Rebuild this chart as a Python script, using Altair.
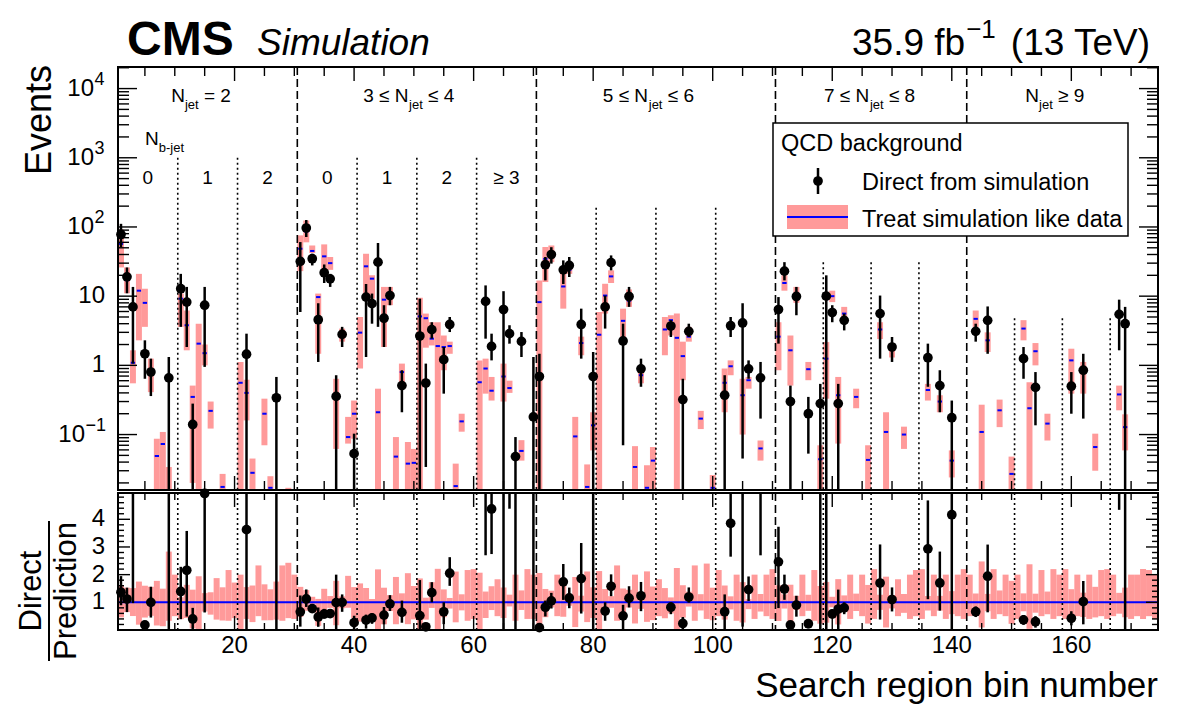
import altair as alt
import pandas as pd

# ---------------- layout (pixels inside the plot group) ----------------
W = 1040                      # plot width
TOP_H = 423                   # event-yield panel height
RAT_Y0, RAT_Y1 = 426, 563     # ratio panel vertical extent
H = RAT_Y1

YMIN, YMAX = 0.0158, 20500.0
RMIN, RMAX = 0.0, 4.95

FONT = "Liberation Sans"
PINK = "#ff9a9a"
BLUE = "#0000ff"

# ---------------- prediction ("treat simulation like data") ----------------
bin_number = list(range(1, 175))

pred = [
    57, 17, 1.09, 12, 8.0, 0.80, 0.049, 0.073, 0.012, 0.006,
    9.2, 3.8, 0.35, 2.06, 1.5, 0.22, 0.008, 0.0175, 0.006, 0.007,
    0.56, 0.40, 0.028, 0.006, 0.20, 0.017, 0.008, 0.006, 0.007, 0.005,
    48.5, 86, 45, 9.7, 37.6, 30, 0.36, 2.8, 0.092, 0.20,
    2.97, 27, 17.9, 0.21, 8.9, 10.8, 0.048, 0.80, 0.038, 0.039,
    5.1, 4.8, 2.43, 1.9, 1.84, 1.9, 0.018, 0.155, 0.006, 0.005,
    0.57, 0.90, 0.43, 0.006, 0.69, 0.47, 0.006, 0.058, 0.005, 0.005,
    8.2, 34.6, 38, 0.006, 13.8, 24, 0.094, 2.1, 0.0175, 0.136,
    2.77, 10.2, 19.3, 0.006, 4.4, 8.6, 0.034, 0.72, 0.017, 0.042,
    0.006, 3.3, 4.5, 2.5, 1.36, 2.6, 0.006, 0.17, 0.005, 0.017,
    0.006, 0.56, 0.97, 0.006, 0.37, 0.61, 0.005, 0.063, 0.006, 0.005,
    2.6, 15.5, 1.65, 11, 0.006, 0.88, 0.006, 0.044, 1.25, 10,
    0.37, 5.6, 0.005, 0.35, 0.006, 0.043, 0.005, 3.3, 0.109, 1.67,
    0.006, 0.10, 0.005, 0.006, 0.005, 0.44, 0.006, 0.30, 0.005, 0.042,
    0.006, 0.005, 0.006, 4.7, 0.109, 2.3, 0.005, 0.224, 0.006, 0.027,
    0.005, 3.4, 0.24, 1.6, 0.006, 0.144, 0.005, 0.006, 0.005, 1.18,
    0.006, 0.83, 0.005, 0.066, 0.006, 0.005, 0.006, 0.38, 0.128, 0.005,
    0.006, 0.005, 0.006, 0.005,
]
pred_lo = [
    26, 11, 0.55, 2.3, 3.6, 0.41, 0.008, 0.010, 0.004, 0.003,
    3.6, 1.65, 0.02, 0.01, 1.0, 0.122, 0.003, 0.006, 0.002, 0.003,
    0.01, 0.16, 0.008, 0.003, 0.07, 0.006, 0.003, 0.002, 0.003, 0.002,
    23, 60, 42, 1.47, 24, 24, 0.062, 2.2, 0.074, 0.087,
    0.9, 10.9, 9.2, 0.005, 1.84, 7.4, 0.010, 0.52, 0.008, 0.015,
    0.01, 1.8, 1.94, 0.01, 0.85, 1.47, 0.005, 0.11, 0.002, 0.002,
    0.01, 0.39, 0.31, 0.003, 0.30, 0.40, 0.002, 0.042, 0.002, 0.002,
    0.01, 16, 31, 0.003, 6.6, 21, 0.010, 1.4, 0.005, 0.059,
    0.01, 5.6, 15.5, 0.002, 2.1, 7.0, 0.008, 0.55, 0.005, 0.015,
    0.003, 1.4, 2.7, 0.01, 0.61, 2.2, 0.002, 0.12, 0.002, 0.006,
    0.003, 0.21, 0.72, 0.002, 0.10, 0.46, 0.002, 0.042, 0.003, 0.002,
    0.85, 12, 0.51, 8, 0.003, 0.61, 0.002, 0.010, 0.33, 8.2,
    0.074, 4.7, 0.002, 0.24, 0.003, 0.010, 0.002, 2.4, 0.010, 1.3,
    0.003, 0.062, 0.002, 0.003, 0.002, 0.31, 0.003, 0.21, 0.002, 0.024,
    0.003, 0.002, 0.003, 3.6, 0.010, 1.56, 0.002, 0.128, 0.003, 0.006,
    0.002, 2.3, 0.010, 1.0, 0.003, 0.082, 0.002, 0.003, 0.002, 0.39,
    0.003, 0.39, 0.002, 0.030, 0.003, 0.002, 0.003, 0.224, 0.059, 0.002,
    0.003, 0.002, 0.003, 0.002,
]
pred_hi = [
    92, 26, 1.65, 21, 12.8, 1.25, 0.087, 0.109, 0.034, 0.012,
    10.9, 6.2, 0.51, 4.0, 2.0, 0.30, 0.015, 0.027, 0.013, 0.012,
    1.12, 0.62, 0.045, 0.014, 0.33, 0.025, 0.014, 0.014, 0.017, 0.010,
    75.6, 124, 54, 10.9, 56, 36.8, 0.64, 3.4, 0.18, 0.31,
    5.0, 41, 20, 0.46, 13.6, 13.6, 0.092, 1.06, 0.078, 0.062,
    9.5, 5.6, 4.2, 4.2, 2.7, 2.2, 0.038, 0.20, 0.013, 0.011,
    1.18, 1.25, 0.68, 0.011, 1.06, 0.60, 0.012, 0.083, 0.011, 0.010,
    16.9, 51.3, 54, 0.012, 24.8, 29, 0.18, 2.6, 0.037, 0.21,
    5.9, 15.1, 23.6, 0.014, 6.6, 12.5, 0.068, 0.95, 0.036, 0.066,
    0.011, 5.0, 5.3, 5.6, 2.2, 3.6, 0.014, 0.22, 0.012, 0.026,
    0.013, 0.90, 1.18, 0.012, 0.64, 0.68, 0.010, 0.082, 0.012, 0.011,
    4.2, 20, 2.7, 13.6, 0.012, 1.12, 0.013, 0.070, 2.17, 12,
    0.68, 7.0, 0.010, 0.46, 0.012, 0.070, 0.011, 4.2, 0.21, 2.1,
    0.011, 0.13, 0.010, 0.013, 0.011, 0.54, 0.012, 0.37, 0.010, 0.059,
    0.012, 0.011, 0.012, 6.2, 0.27, 3.0, 0.011, 0.32, 0.012, 0.048,
    0.010, 4.5, 0.57, 2.1, 0.013, 0.20, 0.011, 0.012, 0.011, 1.74,
    0.012, 1.12, 0.010, 0.103, 0.013, 0.011, 0.012, 0.51, 0.196, 0.010,
    0.012, 0.011, 0.013, 0.010,
]

# ---------------- direct from simulation ----------------
direct_bin = [
    1, 2, 3, 5, 6, 9, 11, 12, 13, 15, 22, 27,
    31, 32, 33, 34, 35, 36, 37, 38, 40, 42, 43, 44, 45, 46, 48, 51, 52, 53, 55, 56,
    62, 63, 65, 66, 67, 68, 70,
    71, 72, 73, 75, 76, 78, 80, 82, 83, 85, 86, 88, 93, 95, 96, 102, 103, 105, 106, 108,
    111, 112, 113, 114, 116, 118, 119, 120, 121, 122, 128, 130, 136, 138, 140,
    144, 146, 152, 154, 160, 162, 168, 169,
]
direct = [
    78, 19, 7.0, 1.47, 0.80, 0.66, 12.8, 8.2, 0.14, 7.4, 1.45, 0.34,
    31.8, 96.5, 34.8, 4.57, 21.8, 17.8, 0.356, 2.8, 0.053, 9.7, 7.8, 31, 4.8, 10.2, 0.51, 2.65, 0.555, 3.28, 1.21, 3.9,
    8.4, 1.88, 6.4, 2.87, 0.048, 2.22, 0.18,
    0.69, 28.5, 40, 24, 27.8, 3.9, 0.69, 7.0, 30.5, 2.25, 9.9, 0.89, 3.7, 0.32, 3.1, 0.37, 3.74, 4.1, 0.89, 0.66,
    6.4, 23, 0.30, 9.9, 0.20, 0.28, 10.0, 5.8, 0.28, 4.47, 5.6, 1.84, 1.29, 0.51, 0.175,
    3.1, 4.47, 1.25, 0.48, 0.50, 0.85, 5.46, 4.0,
]
direct_lo = [
    51, 11, 1.06, 0.64, 0.36, 0, 3.6, 1.84, 0, 0.95, 0, 0,
    5.9, 71.6, 27.8, 1.12, 15.5, 13.6, 0, 1.84, 0, 1.32, 4.0, 3.6, 1.84, 7.4, 0.21, 0, 0.034, 2.43, 0.39, 3.03,
    2.43, 1.18, 0, 2.06, 0, 1.32, 0,
    0, 16.9, 29.5, 15, 18.9, 1.25, 0, 3.4, 23.6, 0.07, 7.0, 0.49, 2.57, 0, 2.57, 0, 2.57, 0.045, 0.64, 0.17,
    2.06, 16.9, 0, 5.3, 0.053, 0, 0, 4.2, 0, 3.2, 1.25, 1.12, 0.49, 0.21, 0,
    2.2, 1.47, 0.64, 0.136, 0.2, 0.17, 1.65, 0,
]
direct_hi = [
    111, 26, 13.6, 2.3, 1.25, 1.32, 21, 13.6, 0.28, 13.6, 2.87, 0.68,
    60.5, 126, 41, 7.9, 28.7, 21, 0.72, 3.6, 0.103, 15, 10.9, 58.6, 7.4, 13.6, 0.85, 9.2, 1.06, 4.2, 1.84, 5.0,
    14.3, 2.87, 11.8, 3.8, 0.092, 3.03, 1.32,
    1.47, 36.8, 51, 32.9, 36.8, 6.6, 1.56, 10.2, 38.8, 4.0, 13.6, 1.25, 4.5, 0.64, 4.0, 0.72, 5.0, 7.9, 1.18, 1.12,
    9.7, 31, 0.51, 13.6, 0.35, 0.54, 20, 7.4, 0.54, 5.6, 10.2, 2.57, 2.06, 0.85, 0.31,
    4.0, 7.1, 1.84, 0.8, 0.8, 1.47, 8.9, 7.0,
]

# ---------------- category structure ----------------
njet_edges = [30.5, 70.5, 110.5, 142.5]
nb_edges = [10.5, 20.5, 40.5, 50.5, 60.5, 80.5, 90.5, 100.5,
            118.5, 126.5, 134.5, 150.5, 158.5, 166.5]
nb_edge_top = [1000, 1000, 1000, 1000, 1000, 190, 190, 190,
               31, 31, 31, 4.8, 4.8, 4.8]
nb_label_x = [5.5, 15.5, 25.5, 35.5, 45.5, 55.5, 65.5]
nb_label = ["0", "1", "2", "0", "1", "2", "≥ 3"]
x_tick_labels = [20, 40, 60, 80, 100, 120, 140, 160]

# ---------------- derived tables ----------------
df = pd.DataFrame({"b": bin_number, "pred": pred, "lo": pred_lo, "hi": pred_hi})
df["x0"] = df["b"] - 0.5
df["x1"] = df["b"] + 0.5
df["xl"] = df["b"] - 0.36
df["xr"] = df["b"] + 0.36
box = df[df["hi"] > YMIN].copy()
box["y0"] = box["lo"].clip(lower=YMIN)
box["y1"] = box["hi"].clip(upper=YMAX)
cent = df[df["pred"] > YMIN]
df["rlo"] = (df["lo"] / df["pred"]).clip(RMIN, RMAX)
df["rhi"] = (df["hi"] / df["pred"]).clip(RMIN, RMAX)

dd = pd.DataFrame({"b": direct_bin, "val": direct, "dlo": direct_lo, "dhi": direct_hi})
dd = dd.merge(df[["b", "pred"]], on="b")
dd["ylo"] = dd["dlo"].clip(lower=YMIN)
dd["ratio"] = dd["val"] / dd["pred"]
dd["rlo"] = (dd["dlo"] / dd["pred"]).clip(RMIN, RMAX)
dd["rhi"] = (dd["dhi"] / dd["pred"]).clip(RMIN, RMAX)
r_pts = dd[dd["ratio"] <= RMAX]
r_bars = dd[dd["dlo"] / dd["pred"] < RMAX]

XS = alt.Scale(domain=[0.5, 174.5], range=[0, W], nice=False, zero=False)
YS = alt.Scale(type="log", domain=[YMIN, YMAX], range=[TOP_H, 0], nice=False)
RS = alt.Scale(domain=[RMIN, RMAX], range=[RAT_Y1, RAT_Y0], nice=False, zero=False)


def X(f):
    return alt.X(f, type="quantitative", scale=XS, axis=None)


def Y(f):
    return alt.Y(f, type="quantitative", scale=YS, axis=None)


def R(f):
    return alt.Y(f, type="quantitative", scale=RS, axis=None)


HELV = {" ": 278, ".": 278, "(": 333, ")": 333, "-": 333, "=": 584, "≤": 584,
        "≥": 584, "−": 584, "N": 722, "T": 611, "V": 667, "b": 556, "e": 556,
        "f": 278, "j": 222, "t": 278}


def tw(s, size):
    return sum(HELV.get(c, 556) for c in s) * size / 1000.0


one = pd.DataFrame({"k": [0]})


def label(text, x, y, size, align="left", baseline="alphabetic", **kw):
    return alt.Chart(one).mark_text(
        text=text, font=FONT, fontSize=size, align=align, baseline=baseline,
        color="black", **kw).encode(x=alt.value(x), y=alt.value(y))


def rich(xc, y, parts):
    """Centred label made of pieces (text, size, vertical shift)."""
    total = sum(tw(t, s) for t, s, _ in parts)
    off = -total / 2.0
    out = []
    for t, s, dy in parts:
        stripped = t.lstrip(" ")
        off += tw(t[: len(t) - len(stripped)], s)   # leading blanks are not rendered
        out.append(
            alt.Chart(pd.DataFrame({"xc": [xc]})).mark_text(
                text=stripped, font=FONT, fontSize=s, align="left", baseline="alphabetic",
                dx=off, color="black").encode(x=X("xc"), y=alt.value(y + dy)))
        off += tw(stripped, s)
    return out


def hticks(vals, scale, x_from, x_to):
    return alt.Chart(pd.DataFrame({"v": vals})).mark_rule(
        color="black", strokeWidth=1.4).encode(
        y=alt.Y("v:Q", scale=scale, axis=None), x=alt.value(x_from), x2=alt.value(x_to))


def vticks(vals, y_from, y_to):
    return alt.Chart(pd.DataFrame({"v": vals})).mark_rule(
        color="black", strokeWidth=1.4).encode(
        x=X("v"), y=alt.value(y_from), y2=alt.value(y_to))


# ---------------- upper panel ----------------
boxes = alt.Chart(box).mark_rect(color=PINK).encode(
    x=X("x0"), x2="x1", y=Y("y0"), y2="y1")
centres = alt.Chart(cent).mark_rule(color=BLUE, strokeWidth=2).encode(
    x=X("xl"), x2="xr", y=Y("pred"))
dotted = alt.Chart(pd.DataFrame({"v": nb_edges, "top": nb_edge_top})).mark_rule(
    color="black", strokeWidth=1.6, strokeDash=[2, 3]).encode(
    x=X("v"), y=Y("top"), y2=alt.value(TOP_H))
dashed = alt.Chart(pd.DataFrame({"v": njet_edges})).mark_rule(
    color="black", strokeWidth=1.6, strokeDash=[8, 4]).encode(
    x=X("v"), y=alt.value(0), y2=alt.value(TOP_H))
err = alt.Chart(dd).mark_rule(color="black", strokeWidth=2.5).encode(
    x=X("b"), y=Y("ylo"), y2="dhi")
pts = alt.Chart(dd).mark_circle(color="black", opacity=1, size=95).encode(
    x=X("b"), y=Y("val"))

y_major = [0.1, 1, 10, 100, 1000, 10000]
y_minor = [m * 10.0 ** e for e in range(-2, 5) for m in range(2, 10)
           if YMIN <= m * 10.0 ** e <= YMAX]
x_minor = [v for v in range(5, 175, 5) if v % 20]
x_major = [v for v in range(20, 175, 20)]

top_ticks = [
    hticks(y_major, YS, 0, 19), hticks(y_minor, YS, 0, 11),
    hticks(y_major, YS, W - 19, W), hticks(y_minor, YS, W - 11, W),
]
exp_lab = pd.DataFrame({"v": [10000, 1000, 100], "e": ["4", "3", "2"]})
plain_lab = pd.DataFrame({"v": [10, 1], "t": ["10", "1"]})
top_labels = [
    alt.Chart(exp_lab).mark_text(text="10", font=FONT, fontSize=24, align="right",
                                 baseline="middle").encode(y=Y("v"), x=alt.value(-24)),
    alt.Chart(exp_lab).mark_text(font=FONT, fontSize=18, align="left", baseline="middle",
                                 dy=-9).encode(y=Y("v"), x=alt.value(-23.5), text="e:N"),
    alt.Chart(plain_lab).mark_text(font=FONT, fontSize=24, align="right",
                                   baseline="middle").encode(y=Y("v"), x=alt.value(-13), text="t:N"),
    alt.Chart(pd.DataFrame({"v": [0.1]})).mark_text(
        text="10", font=FONT, fontSize=24, align="right", baseline="middle").encode(
        y=Y("v"), x=alt.value(-33)),
    alt.Chart(pd.DataFrame({"v": [0.1]})).mark_text(
        text="−1", font=FONT, fontSize=18, align="left", baseline="middle", dy=-9).encode(
        y=Y("v"), x=alt.value(-32.5)),
]

top_group = alt.layer(boxes, centres, dotted, dashed, *top_ticks,
                      vticks(x_minor, 0, 9), vticks(x_major, 0, 14),
                      vticks(x_minor, TOP_H - 9, TOP_H), vticks(x_major, TOP_H - 14, TOP_H),
                      err, pts, *top_labels)

# ---------------- ratio panel ----------------
bands = alt.Chart(df).mark_rect(color=PINK).encode(
    x=X("x0"), x2="x1", y=R("rlo"), y2="rhi")
unity = alt.Chart(pd.DataFrame({"u": [1.0]})).mark_rule(color=BLUE, strokeWidth=2).encode(
    y=R("u"), x=alt.value(0), x2=alt.value(W))
r_dotted = alt.Chart(pd.DataFrame({"v": nb_edges})).mark_rule(
    color="black", strokeWidth=1.6, strokeDash=[2, 3]).encode(
    x=X("v"), y=alt.value(RAT_Y0), y2=alt.value(RAT_Y1))
r_dashed = alt.Chart(pd.DataFrame({"v": njet_edges})).mark_rule(
    color="black", strokeWidth=1.6, strokeDash=[8, 4]).encode(
    x=X("v"), y=alt.value(RAT_Y0), y2=alt.value(RAT_Y1))
r_err = alt.Chart(r_bars).mark_rule(color="black", strokeWidth=2.5).encode(
    x=X("b"), y=R("rlo"), y2="rhi")
r_points = alt.Chart(r_pts).mark_circle(color="black", opacity=1, size=95).encode(
    x=X("b"), y=R("ratio"))

r_major = [1, 2, 3, 4]
r_minor = [round(0.2 * k, 1) for k in range(1, 25) if k % 5]
ratio_ticks = [
    hticks(r_major, RS, 0, 12), hticks(r_minor, RS, 0, 6),
    hticks(r_major, RS, W - 12, W), hticks(r_minor, RS, W - 6, W),
]
ratio_labels = alt.Chart(pd.DataFrame({"v": r_major, "t": ["1", "2", "3", "4"]})).mark_text(
    font=FONT, fontSize=24, align="right", baseline="middle").encode(
    y=R("v"), x=alt.value(-13), text="t:N")

ratio_group = alt.layer(bands, unity, r_dotted, r_dashed, *ratio_ticks,
                        vticks(x_minor, RAT_Y0, RAT_Y0 + 7), vticks(x_major, RAT_Y0, RAT_Y0 + 14),
                        vticks(x_minor, RAT_Y1 - 7, RAT_Y1), vticks(x_major, RAT_Y1 - 14, RAT_Y1),
                        r_err, r_points, ratio_labels)

# ---------------- frames, legend and text ----------------
frames = [
    alt.Chart(one).mark_rect(fillOpacity=0, stroke="black", strokeWidth=2).encode(
        x=alt.value(0), x2=alt.value(W), y=alt.value(0), y2=alt.value(TOP_H)),
    alt.Chart(one).mark_rect(fillOpacity=0, stroke="black", strokeWidth=2).encode(
        x=alt.value(0), x2=alt.value(W), y=alt.value(RAT_Y0), y2=alt.value(RAT_Y1)),
]

legend = [
    alt.Chart(one).mark_rect(fill="white", stroke="black", strokeWidth=1.5).encode(
        x=alt.value(655), x2=alt.value(1010), y=alt.value(56), y2=alt.value(169)),
    label("QCD background", 663, 83.5, 23.5),
    alt.Chart(one).mark_rule(color="black", strokeWidth=2.5).encode(
        x=alt.value(700), y=alt.value(101), y2=alt.value(127)),
    alt.Chart(one).mark_circle(color="black", opacity=1, size=95).encode(
        x=alt.value(700), y=alt.value(114)),
    label("Direct from simulation", 744, 122.5, 23.5),
    alt.Chart(one).mark_rect(color=PINK).encode(
        x=alt.value(669), x2=alt.value(730), y=alt.value(138), y2=alt.value(162)),
    alt.Chart(one).mark_rule(color=BLUE, strokeWidth=2).encode(
        x=alt.value(669), x2=alt.value(730), y=alt.value(150)),
    label("Treat simulation like data", 744, 159.5, 23.5),
]

region_y = 34.7
regions = (
    rich(14.4, region_y, [("N", 19, 0), ("jet", 13, 7), (" = 2", 19, 0)])
    + rich(49.2, region_y, [("3 ≤ N", 19, 0), ("jet", 13, 7), (" ≤ 4", 19, 0)])
    + rich(89.3, region_y, [("5 ≤ N", 19, 0), ("jet", 13, 7), (" ≤ 6", 19, 0)])
    + rich(126.3, region_y, [("7 ≤ N", 19, 0), ("jet", 13, 7), (" ≤ 8", 19, 0)])
    + rich(157.3, region_y, [("N", 19, 0), ("jet", 13, 7), (" ≥ 9", 19, 0)])
)
nb_title = [label("N", 27, 78, 19), label("b-jet", 27 + tw("N", 19), 84.5, 13)]
nb_labels = alt.Chart(pd.DataFrame({"xc": nb_label_x, "t": nb_label})).mark_text(
    font=FONT, fontSize=19, align="center", baseline="alphabetic").encode(
    x=X("xc"), y=alt.value(117), text="t:N")

x_labels = alt.Chart(pd.DataFrame({"v": x_tick_labels})).transform_calculate(
    t="format(datum.v, 'd')").mark_text(
    font=FONT, fontSize=24, align="center", baseline="alphabetic").encode(
    x=X("v"), y=alt.value(586), text="t:N")

LUMI_F, SUP_F = 37, 26
lumi_r = 1032
lumi = [
    label("(13 TeV)", lumi_r, -12, LUMI_F, align="right"),
    label("−1", lumi_r - tw(" (13 TeV)", LUMI_F), -29, SUP_F, align="right"),
    label("35.9 fb", lumi_r - tw(" (13 TeV)", LUMI_F) - tw("−1", SUP_F) - 1, -12, LUMI_F,
          align="right"),
]

texts = [
    label("CMS", 9, -12, 48, fontWeight="bold"),
    label("Simulation", 139, -12, 37, fontStyle="italic"),
    *lumi,
    label("Events", -78, 53, 36, align="center", baseline="middle", angle=270),
    label("Direct", -86, 524, 31, align="center", baseline="middle", angle=270),
    label("Prediction", -51, 524, 31, align="center", baseline="middle", angle=270),
    alt.Chart(one).mark_rule(color="black", strokeWidth=2).encode(
        x=alt.value(-69), y=alt.value(454), y2=alt.value(594)),
    label("Search region bin number", W, 630, 35, align="right"),
    x_labels,
    nb_labels, *nb_title, *regions,
]

chart = alt.layer(
    top_group, ratio_group, *frames, *legend, *texts
).resolve_scale(y="independent").properties(
    width=W, height=H,
    padding={"left": 118, "top": 67, "right": 24, "bottom": 75},
    autosize=alt.AutoSizeParams(type="none"),
    background="white",
).configure_view(strokeWidth=0)

chart.save("out.html", embed_options={"renderer": "svg", "actions": False})
